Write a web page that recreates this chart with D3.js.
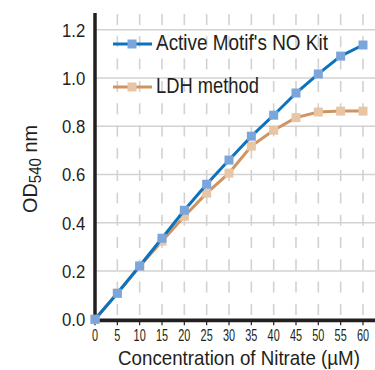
<!DOCTYPE html>
<html><head><meta charset="utf-8">
<script src="https://cdn.jsdelivr.net/npm/d3@7"></script>
<style>body{margin:0;background:#fff}svg{display:block}text{font-family:"Liberation Sans","Arial",sans-serif;fill:#231f20}</style>
</head><body><svg id="c" width="375" height="370"></svg>
<script>
const concentrations = [0,5,10,15,20,25,30,35,40,45,50,55,60];
const activeMotif = [0,0.108,0.221,0.336,0.452,0.56,0.66,0.759,0.846,0.938,1.017,1.091,1.137];
const ldh = [0,0.108,0.22,0.324,0.427,0.523,0.606,0.718,0.784,0.836,0.859,0.863,0.863];
const seriesNames = ["Active Motif's NO Kit","LDH method"];
const yTicks = [0,0.2,0.4,0.6,0.8,1.0,1.2];
const xTicks = [0,5,10,15,20,25,30,35,40,45,50,55,60];

const svg = d3.select("#c");
const x = d3.scaleLinear().domain([0,60]).range([95,363]);
const y = d3.scaleLinear().domain([0,1.2]).range([319.3,29.8]);
const plotTop = 13, plotRight = 375;

function condensed(gx, gy, rot, sx, size, anchor, str) {
  const g = svg.append("g").attr("transform", `translate(${gx},${gy})` + (rot ? ` rotate(${rot})` : ""));
  const t = g.append("text").attr("transform", `scale(${sx},1)`)
    .attr("text-anchor", anchor).style("font-size", size + "px");
  if (str !== undefined) t.text(str);
  return t;
}
function fitTo(t, target) {
  const w = t.node().getComputedTextLength();
  t.attr("transform", `scale(${target / w},1)`);
}

svg.append("g").selectAll("line").data(yTicks.slice(1)).join("line")
  .attr("x1",95).attr("x2",plotRight).attr("y1",d=>y(d)).attr("y2",d=>y(d))
  .attr("stroke","#d2d2d2").attr("stroke-width",1.6);
svg.append("g").selectAll("line").data(xTicks.slice(1)).join("line")
  .attr("x1",d=>x(d)).attr("x2",d=>x(d)).attr("y1",14).attr("y2",y(0))
  .attr("stroke","#d2d2d2").attr("stroke-width",1.6).attr("stroke-dasharray","11,11.3");

svg.append("line").attr("x1",95).attr("x2",95).attr("y1",plotTop).attr("y2",y(0)+2)
  .attr("stroke","#231f20").attr("stroke-width",3.5);
svg.append("line").attr("x1",93).attr("x2",plotRight).attr("y1",y(0)+1).attr("y2",y(0)+1)
  .attr("stroke","#231f20").attr("stroke-width",3.8);
svg.append("g").selectAll("line").data(xTicks).join("line")
  .attr("x1",d=>x(d)).attr("x2",d=>x(d)).attr("y1",y(0)+2).attr("y2",y(0)+6)
  .attr("stroke","#231f20").attr("stroke-width",1.2);

yTicks.forEach(d => {
  condensed(62, y(d), 0, 0.88, 19, "start", d.toFixed(1)).attr("dy","0.36em");
});
xTicks.forEach(d => {
  condensed(x(d), 341, 0, 0.68, 16, "middle", d);
});

fitTo(condensed(239, 365, 0, 1, 21, "middle", "Concentration of Nitrate (µM)"), 242);
const yt = condensed(37, 169, -90, 1, 21, "middle");
yt.append("tspan").text("OD");
yt.append("tspan").attr("dy",4).style("font-size","16px").text("540");
yt.append("tspan").attr("dy",-4).text(" nm");
fitTo(yt, 88);

const series = [
  {name:seriesNames[0], vals:activeMotif, line:"#0b72bd", mark:"#7ba6dc", w:172},
  {name:seriesNames[1], vals:ldh, line:"#cf9461", mark:"#e9c6a3", w:103}
];
const lineGen = d3.line().x((d,i)=>x(concentrations[i])).y(d=>y(d));
[series[1],series[0]].forEach(s=>{
  svg.append("path").attr("d",lineGen(s.vals)).attr("fill","none")
    .attr("stroke",s.line).attr("stroke-width",3);
  svg.append("g").selectAll("rect").data(s.vals).join("rect")
    .attr("x",(d,i)=>x(concentrations[i])-4.5).attr("y",d=>y(d)-4.5)
    .attr("width",9).attr("height",9).attr("fill",s.mark);
});

const legY = [44,87];
series.forEach((s,i)=>{
  svg.append("line").attr("x1",113).attr("x2",152).attr("y1",legY[i]).attr("y2",legY[i])
    .attr("stroke",s.line).attr("stroke-width",3);
  svg.append("rect").attr("x",132-4.5).attr("y",legY[i]-4.5).attr("width",9).attr("height",9).attr("fill",s.mark);
  fitTo(condensed(156, legY[i]+6, 0, 1, 22, "start", s.name), s.w);
});
</script></body></html>
